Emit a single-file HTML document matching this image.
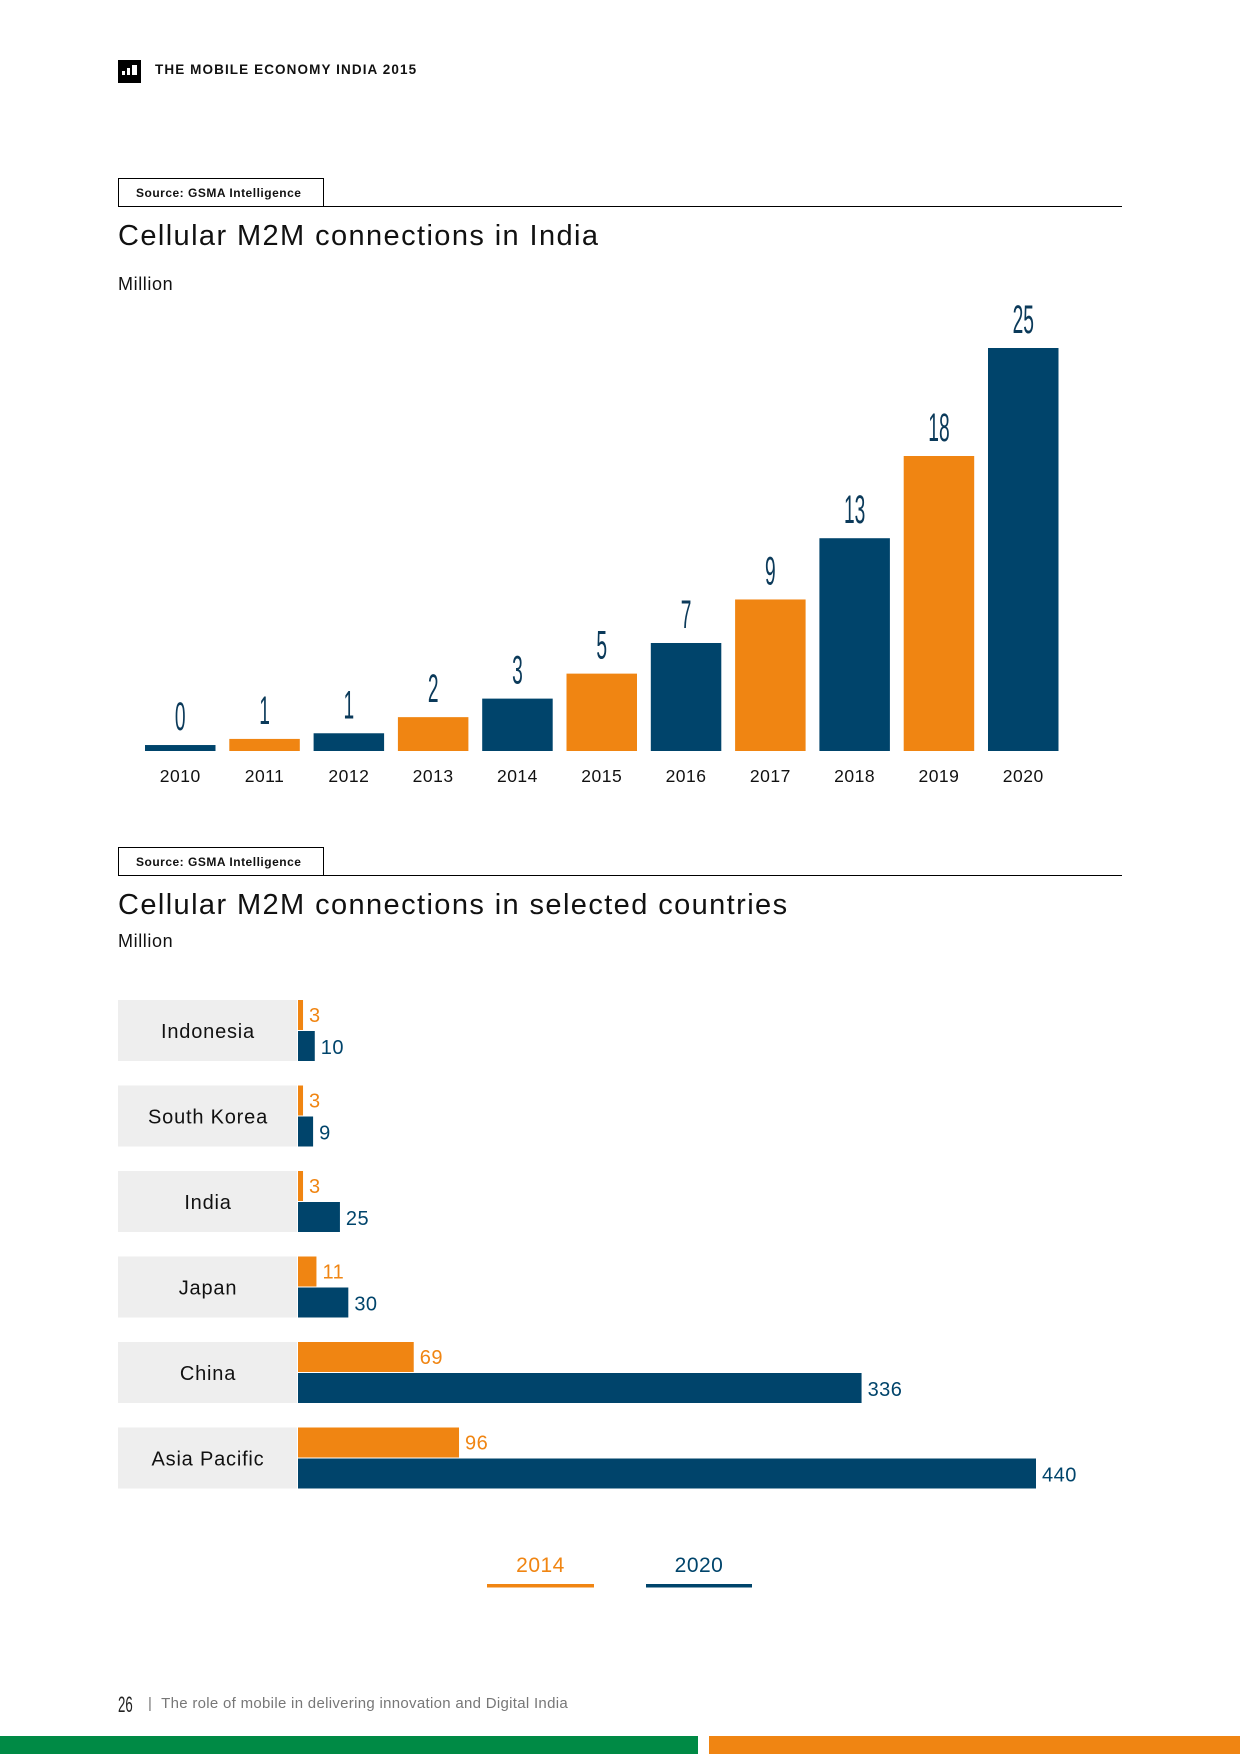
<!DOCTYPE html>
<html><head><meta charset="utf-8">
<style>
body{margin:0;width:1240px;height:1754px;position:relative;background:#fff;font-family:"Liberation Sans",sans-serif;overflow:hidden}
.abs{position:absolute}
.src{position:absolute;left:118px;width:206px;height:28px;border:1px solid #000;border-bottom:none;box-sizing:border-box;font-size:12px;font-weight:bold;line-height:28px;padding-left:17px;color:#111;letter-spacing:0.5px}
.rule{position:absolute;left:118px;width:1004px;height:1px;background:#000}
.title{position:absolute;left:118px;font-size:29px;color:#111;white-space:nowrap;letter-spacing:1.4px}
.unit{position:absolute;left:118px;font-size:18px;color:#111;letter-spacing:0.6px}
</style></head><body>
<div class="abs" style="left:118px;top:60px;width:23px;height:23px;background:#000">
<div style="position:absolute;left:4px;top:11px;width:3px;height:4px;background:#fff"></div>
<div style="position:absolute;left:9px;top:8px;width:3px;height:7px;background:#fff"></div>
<div style="position:absolute;left:14px;top:5px;width:5px;height:10px;background:#fff"></div>
</div>
<div class="abs" style="left:155px;top:62px;font-size:13.5px;font-weight:bold;color:#111;letter-spacing:1.1px">THE MOBILE ECONOMY INDIA 2015</div>

<div class="src" style="top:178px">Source: GSMA Intelligence</div>
<div class="rule" style="top:206px"></div>
<div class="title" style="top:220px">Cellular M2M connections in India</div>
<div class="unit" style="top:274px">Million</div>

<svg class="abs" style="left:0;top:0" width="1240" height="1754" id="svg"></svg>

<div class="src" style="top:847px">Source: GSMA Intelligence</div>
<div class="rule" style="top:875px"></div>
<div class="title" style="top:889px">Cellular M2M connections in selected countries</div>
<div class="unit" style="top:931px">Million</div>

<div class="abs" style="left:118px;top:1692px;font-size:22px;color:#222;transform:scaleX(0.6);transform-origin:left">26</div>
<div class="abs" style="left:148px;top:1695px;font-size:15px;color:#777;white-space:nowrap;letter-spacing:0.3px">| &nbsp;The role of mobile in delivering innovation and Digital India</div>
<div class="abs" style="left:0;top:1736px;width:698px;height:18px;background:#008a45"></div>
<div class="abs" style="left:709px;top:1736px;width:531px;height:18px;background:#f08512"></div>

<script>
const years=["2010","2011","2012","2013","2014","2015","2016","2017","2018","2019","2020"];
const values=[0.37,0.75,1.1,2.1,3.25,4.8,6.7,9.4,13.2,18.3,25];
const valueLabels=["0","1","1","2","3","5","7","9","13","18","25"];
const countries=["Indonesia","South Korea","India","Japan","China","Asia Pacific"];
const v2014=[3,3,3,11,69,96];
const v2020=[10,9,25,30,336,440];
const ORANGE="#f08512",NAVY="#00446b";
const svg=document.getElementById('svg');
const NS="http://www.w3.org/2000/svg";
function mk(t,a){const e=document.createElementNS(NS,t);for(const k in a)e.setAttribute(k,a[k]);svg.appendChild(e);return e;}
// chart 1
const base=751, pxPer=(751-348)/25;
const y1=v=>base-v*pxPer;
const x1=i=>145+i*84.3;
years.forEach((yr,i)=>{
  const r=mk('rect',{x:x1(i),y:y1(values[i]),width:70.5,height:base-y1(values[i]),fill:i%2?ORANGE:NAVY});
  
  
  const t=mk('text',{x:0,y:0,'font-size':40,fill:'#0b3a5a','text-anchor':'middle',transform:`translate(${x1(i)+35.25},${y1(values[i])-15}) scale(0.48,1)`,'font-family':'Liberation Sans Narrow, Liberation Sans, sans-serif'});
  t.textContent=valueLabels[i];
  
  
  const l=mk('text',{x:x1(i)+35.25,y:782,'font-size':17.5,fill:'#111','text-anchor':'middle','font-family':'Liberation Sans, sans-serif','letter-spacing':0.5});
  l.textContent=yr;
  
  
});
// chart 2
const x0=298, sc=(1036-298)/440;
const x2=v=>x0+v*sc;
countries.forEach((c,i)=>{
  const top=1000+i*85.5;
  const b=mk('rect',{x:118,y:top,width:179,height:61,fill:'#eeeeee'});
  
  
  const t=mk('text',{x:208,y:top+38,'font-size':20,fill:'#111','text-anchor':'middle','font-family':'Liberation Sans, sans-serif','letter-spacing':0.8});
  t.textContent=c;
  
  
  const w1=Math.max(x2(v2014[i])-x0,4), w2=x2(v2020[i])-x0;
  const r1=mk('rect',{x:x0,y:top,width:w1,height:30,fill:ORANGE});
  
  
  const r2=mk('rect',{x:x0,y:top+31,width:w2,height:30,fill:NAVY});
  
  
  const l1=mk('text',{x:x0+w1+6,y:top+22,'font-size':20,fill:ORANGE,'font-family':'Liberation Sans, sans-serif','letter-spacing':0.5});
  l1.textContent=v2014[i];
  
  
  const l2=mk('text',{x:x0+w2+6,y:top+54,'font-size':20,fill:NAVY,'font-family':'Liberation Sans, sans-serif','letter-spacing':0.5});
  l2.textContent=v2020[i];
  
  
});
// legend
[["2014",ORANGE,487,594],["2020",NAVY,646,752]].forEach(([n,c,a,b])=>{
  const t=mk('text',{x:(a+b)/2,y:1572,'font-size':21,fill:c,'text-anchor':'middle','font-family':'Liberation Sans, sans-serif','letter-spacing':0.5});
  t.textContent=n;
  
  
  const r=mk('rect',{x:a,y:1584,width:b-a,height:3.5,fill:c});
  
  
});
</script>
</body></html>
